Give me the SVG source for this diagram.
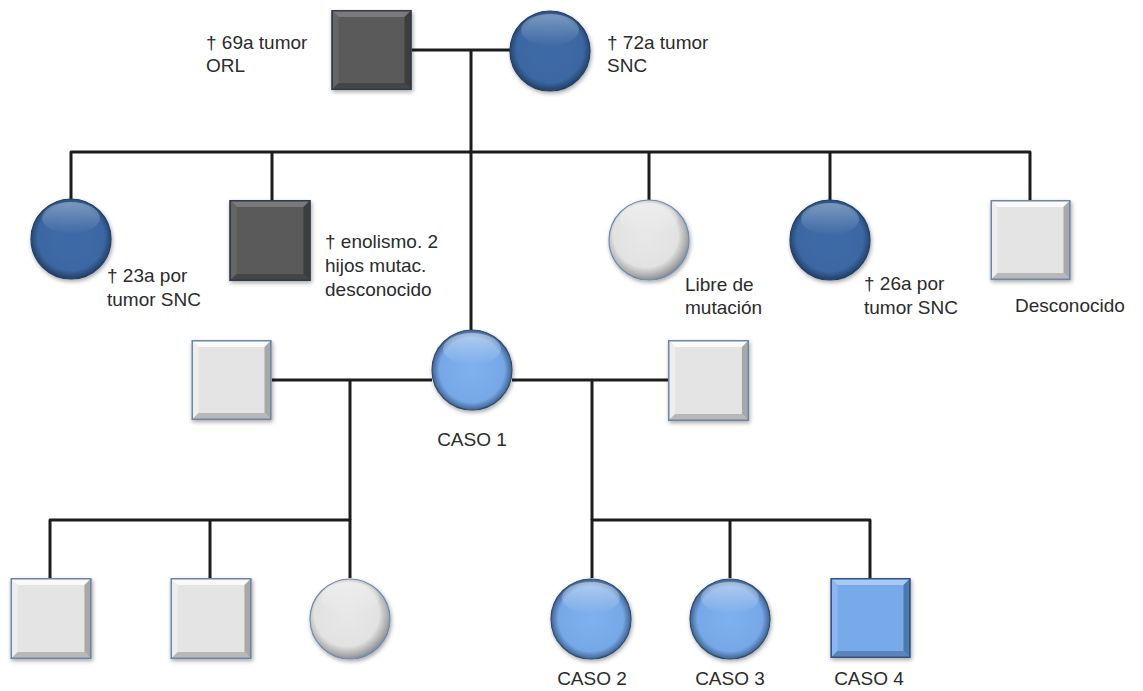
<svg xmlns="http://www.w3.org/2000/svg" width="1143" height="691" viewBox="0 0 1143 691">
<defs>
<style>
.ln{fill:none;stroke:#1c1c1c;stroke-width:3;stroke-linejoin:round}
.t{font-family:"Liberation Sans",Arial,Helvetica,sans-serif;font-size:19px;fill:#2b2b2b}
.c{text-anchor:middle}
</style>
<filter id="sh" x="-20%" y="-20%" width="140%" height="140%">
<feDropShadow dx="1" dy="2" stdDeviation="2" flood-color="#000" flood-opacity="0.35"/>
</filter>
<radialGradient id="gDB" cx="50%" cy="48%" r="52%">
<stop offset="0" stop-color="#3e6ba7"/><stop offset="0.8" stop-color="#3b67a2"/><stop offset="1" stop-color="#223f66"/>
</radialGradient>
<radialGradient id="gLB" cx="50%" cy="50%" r="52%">
<stop offset="0" stop-color="#80b1ef"/><stop offset="0.78" stop-color="#76a7e6"/><stop offset="1" stop-color="#35557e"/>
</radialGradient>
<radialGradient id="gLG" cx="46%" cy="44%" r="56%">
<stop offset="0" stop-color="#e8e8e8"/><stop offset="0.72" stop-color="#e2e2e2"/><stop offset="0.92" stop-color="#a9a9a9"/><stop offset="1" stop-color="#8a8f98"/>
</radialGradient>
<linearGradient id="hl" x1="0" y1="0" x2="0" y2="1">
<stop offset="0" stop-color="#fff" stop-opacity="0.55"/><stop offset="1" stop-color="#fff" stop-opacity="0"/>
</linearGradient>
<symbol id="sqDG" viewBox="0 0 80 80">
<rect width="80" height="80" fill="#5a5a5a"/>
<polygon points="0,0 80,0 73,7 7,7" fill="#7a7a7a"/>
<polygon points="0,0 7,7 7,73 0,80" fill="#666"/>
<polygon points="80,0 80,80 73,73 73,7" fill="#3e3e3e"/>
<polygon points="0,80 80,80 73,73 7,73" fill="#444"/>
<rect x="0.75" y="0.75" width="78.5" height="78.5" fill="none" stroke="#2e3b4d" stroke-width="1.5"/>
</symbol>
<symbol id="sqLG" viewBox="0 0 80 80">
<rect width="80" height="80" fill="#e4e4e4"/>
<polygon points="0,0 80,0 73,7 7,7" fill="#fafafa"/>
<polygon points="0,0 7,7 7,73 0,80" fill="#eeeeee"/>
<polygon points="80,0 80,80 73,73 73,7" fill="#a8a8a8"/>
<polygon points="0,80 80,80 73,73 7,73" fill="#b8b8b8"/>
<rect x="0.75" y="0.75" width="78.5" height="78.5" fill="none" stroke="#6d86a6" stroke-width="1.5"/>
</symbol>
<symbol id="sqLB" viewBox="0 0 80 80">
<rect width="80" height="80" fill="#78a9e8"/>
<polygon points="0,0 80,0 73,7 7,7" fill="#a6c9f6"/>
<polygon points="0,0 7,7 7,73 0,80" fill="#8bb7ee"/>
<polygon points="80,0 80,80 73,73 73,7" fill="#4f79ad"/>
<polygon points="0,80 80,80 73,73 7,73" fill="#5a84ba"/>
<rect x="0.75" y="0.75" width="78.5" height="78.5" fill="none" stroke="#34537c" stroke-width="1.5"/>
</symbol>
<symbol id="ciDB" viewBox="0 0 82 82">
<circle cx="41" cy="41" r="40" fill="url(#gDB)" stroke="#233f63" stroke-width="1.2"/>
<ellipse cx="41" cy="20" rx="29" ry="16" fill="url(#hl)" opacity="0.6"/>
</symbol>
<symbol id="ciLB" viewBox="0 0 82 82">
<circle cx="41" cy="41" r="40" fill="url(#gLB)" stroke="#2f4c72" stroke-width="1.2"/>
<ellipse cx="41" cy="20" rx="29" ry="16" fill="url(#hl)" opacity="0.8"/>
</symbol>
<symbol id="ciLG" viewBox="0 0 82 82">
<circle cx="41" cy="41" r="40" fill="url(#gLG)" stroke="#6d8bb0" stroke-width="1.2"/>
<ellipse cx="41" cy="20" rx="29" ry="16" fill="url(#hl)" opacity="0.7"/>
</symbol>
</defs>
<rect width="1143" height="691" fill="#fff"/>

<g id="connectors">
<path class="ln" d="M412,50 H510"/>
<path class="ln" d="M471,50 V330"/>
<path class="ln" d="M71,200 V152 H1030 V200"/>
<path class="ln" d="M272,152 V200"/>
<path class="ln" d="M649,152 V200"/>
<path class="ln" d="M830,152 V200"/>
<path class="ln" d="M271,380 H432"/>
<path class="ln" d="M512,380 H668"/>
<path class="ln" d="M350,380 V520"/>
<path class="ln" d="M592,380 V520"/>
<path class="ln" d="M50,578 V520 H350 V578"/>
<path class="ln" d="M210,520 V578"/>
<path class="ln" d="M592,578 V520 H870 V578"/>
<path class="ln" d="M730,520 V578"/>
</g>

<g id="abuelo" filter="url(#sh)"><use href="#sqDG" x="331" y="10" width="81" height="80"/></g>
<g id="abuela" filter="url(#sh)"><use href="#ciDB" x="509" y="10" width="82" height="82"/></g>
<g id="hija1" filter="url(#sh)"><use href="#ciDB" x="30" y="198" width="82" height="82"/></g>
<g id="hijo2" filter="url(#sh)"><use href="#sqDG" x="229" y="200" width="82" height="81"/></g>
<g id="hija3" filter="url(#sh)"><use href="#ciLG" x="608" y="199" width="82" height="82"/></g>
<g id="hija4" filter="url(#sh)"><use href="#ciDB" x="789" y="199" width="82" height="82"/></g>
<g id="hijo5" filter="url(#sh)"><use href="#sqLG" x="990" y="200" width="81" height="80"/></g>
<g id="pareja1" filter="url(#sh)"><use href="#sqLG" x="191" y="340" width="81" height="80"/></g>
<g id="caso1" filter="url(#sh)"><use href="#ciLB" x="431" y="329" width="82" height="82"/></g>
<g id="pareja2" filter="url(#sh)"><use href="#sqLG" x="668" y="340" width="81" height="81"/></g>
<g id="nieto1" filter="url(#sh)"><use href="#sqLG" x="10" y="578" width="82" height="81"/></g>
<g id="nieto2" filter="url(#sh)"><use href="#sqLG" x="170" y="578" width="82" height="81"/></g>
<g id="nieta3" filter="url(#sh)"><use href="#ciLG" x="309" y="578" width="82" height="82"/></g>
<g id="caso2" filter="url(#sh)"><use href="#ciLB" x="550" y="578" width="82" height="82"/></g>
<g id="caso3" filter="url(#sh)"><use href="#ciLB" x="689" y="578" width="82" height="82"/></g>
<g id="caso4" filter="url(#sh)"><use href="#sqLB" x="830" y="578" width="81" height="80"/></g>

<g id="labels">
<text class="t" x="206" y="49">† 69a tumor</text>
<text class="t" x="206" y="72">ORL</text>
<text class="t" x="607" y="49">† 72a tumor</text>
<text class="t" x="607" y="72">SNC</text>
<text class="t" x="107" y="282">† 23a por</text>
<text class="t" x="107" y="306">tumor SNC</text>
<text class="t" x="325" y="248">† enolismo. 2</text>
<text class="t" x="325" y="272">hijos mutac.</text>
<text class="t" x="325" y="296">desconocido</text>
<text class="t" x="685" y="291">Libre de</text>
<text class="t" x="685" y="314">mutación</text>
<text class="t" x="864" y="290">† 26a por</text>
<text class="t" x="864" y="314">tumor SNC</text>
<text class="t" x="1015" y="312">Desconocido</text>
<text class="t c" x="472" y="446">CASO 1</text>
<text class="t c" x="592" y="685">CASO 2</text>
<text class="t c" x="730" y="685">CASO 3</text>
<text class="t c" x="869" y="685">CASO 4</text>
</g>
</svg>
